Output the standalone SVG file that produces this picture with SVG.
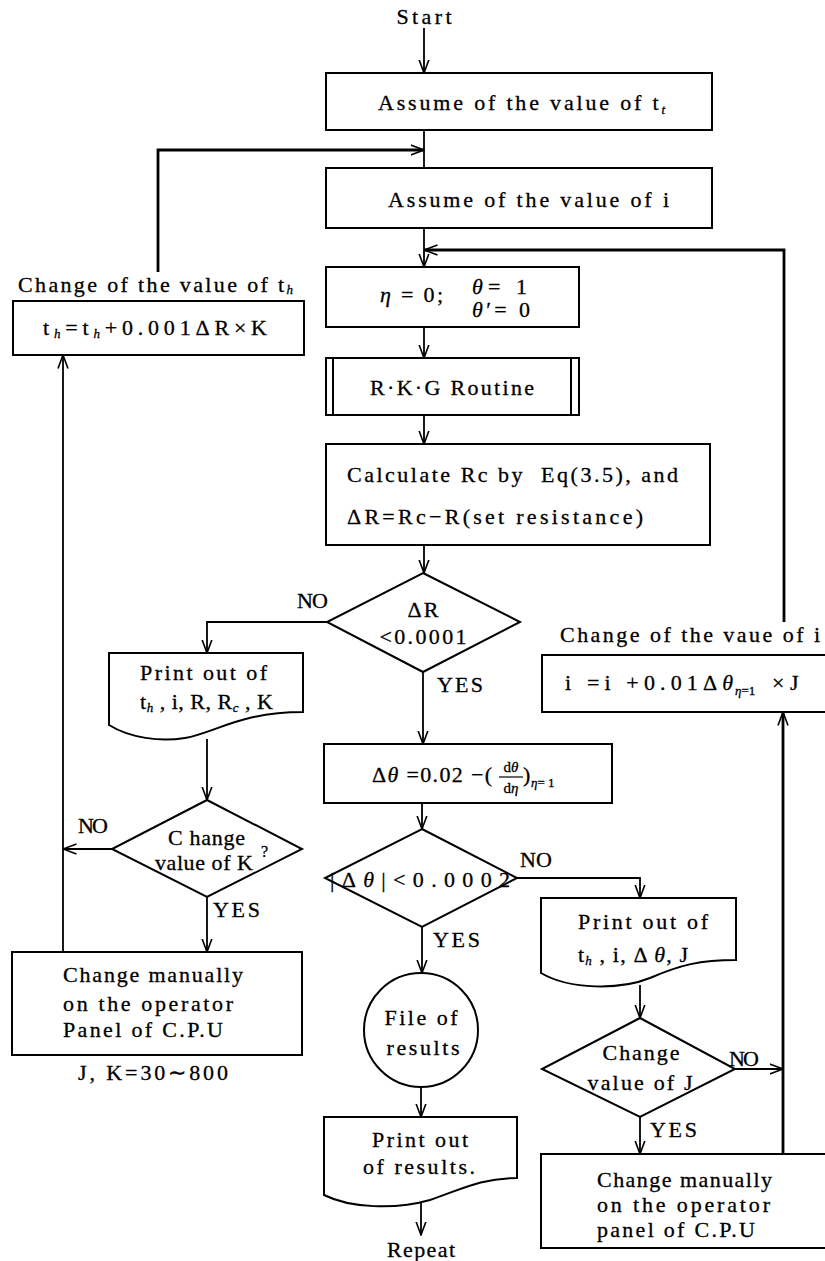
<svg xmlns="http://www.w3.org/2000/svg" width="825" height="1261" viewBox="0 0 825 1261">
<defs>
<marker id="ah" viewBox="0 0 14 12" markerWidth="14" markerHeight="12" refX="13.5" refY="6" orient="auto" markerUnits="userSpaceOnUse">
<path d="M0,1 L13.5,6 L0,11" fill="none" stroke="#000" stroke-width="1.6"/>
</marker>
<style>
.b{fill:#fff;stroke:#000;stroke-width:2}
.c{fill:none;stroke:#000;stroke-width:1.8}
.w{stroke-width:2.8}
.a{marker-end:url(#ah)}
text{font-family:"Liberation Serif","Times New Roman",serif;font-size:22px;fill:#000;stroke:#000;stroke-width:0.3}
.m{text-anchor:middle}
.s{font-size:13px}
.f{font-size:15px}
.i{font-style:italic}
</style>
</defs>
<rect width="825" height="1261" fill="#fff"/>

<g id="connectors">
<path class="c a" d="M424,28 V73"/>
<path class="c" d="M424,130 V168"/>
<path class="c w a" d="M158,272 V150 H424"/>
<path class="c a" d="M424,228 V267"/>
<path class="c w a" d="M784,622 V250 H424"/>
<path class="c a" d="M424,327 V358"/>
<path class="c a" d="M424,415 V444"/>
<path class="c a" d="M424,545 V573"/>
<path class="c a" d="M327,622 H207 V653"/>
<path class="c a" d="M423,672 V744"/>
<path class="c a" d="M422,803 V829"/>
<path class="c a" d="M517,878 H640 V898"/>
<path class="c a" d="M422,927 V973"/>
<path class="c a" d="M421,1087 V1117"/>
<path class="c a" d="M421,1203 V1235"/>
<path class="c a" d="M207,739 V800"/>
<path class="c a" d="M112,849 H63"/>
<path class="c a" d="M207,897 V952"/>
<path class="c a" d="M63,952 V355"/>
<path class="c a" d="M640,985 V1018"/>
<path class="c a" d="M735,1069 H783"/>
<path class="c a" d="M640,1117 V1154"/>
<path class="c w a" d="M783,1154 V712"/>
</g>

<g id="start"><text class="m" x="424" y="24" textLength="55">Start</text></g>

<g id="assume-tt">
<rect class="b" x="326" y="73" width="386" height="57"/>
<text x="378" y="110" textLength="287">Assume of the value of t<tspan class="s i" dy="4">t</tspan></text>
</g>

<g id="assume-i">
<rect class="b" x="326" y="168" width="386" height="60"/>
<text x="388" y="207" textLength="281">Assume of the value of i</text>
</g>

<g id="change-th">
<text x="18" y="292" textLength="275">Change of the value of t<tspan class="s i" dy="2">h</tspan></text>
<rect class="b" x="13" y="301" width="291" height="54"/>
<text x="43" y="335" textLength="224">t<tspan class="s i" dy="3">h</tspan><tspan dy="-3">=t</tspan><tspan class="s i" dy="3">h</tspan><tspan dy="-3">+0.001ΔR×K</tspan></text>
</g>

<g id="init">
<rect class="b" x="326" y="267" width="253" height="60"/>
<text x="380" y="302" textLength="63"><tspan class="i">η</tspan> = 0;</text>
<text x="472" y="294" textLength="55"><tspan class="i">θ</tspan>= 1</text>
<text x="472" y="317" textLength="58"><tspan class="i">θ</tspan>′= 0</text>
</g>

<g id="rkg">
<rect class="b" x="326" y="358" width="253" height="57"/>
<path class="c" d="M333,358 V415 M571,358 V415" style="stroke-width:2"/>
<text x="370" y="395" textLength="164">R·K·G Routine</text>
</g>

<g id="calc">
<rect class="b" x="326" y="444" width="384" height="101"/>
<text x="347" y="482" textLength="331">Calculate Rc by&#160; Eq(3.5), and</text>
<text x="347" y="524" textLength="296">ΔR=Rc−R(set resistance)</text>
</g>

<g id="dec-dr">
<polygon class="b" points="423,573 520,622 423,672 327,622"/>
<text class="m" x="423" y="617" textLength="31">ΔR</text>
<text class="m" x="423" y="644" textLength="87">&lt;0.0001</text>
<text x="297" y="608" textLength="31">NO</text>
<text x="437" y="692" textLength="46">YES</text>
</g>

<g id="print-1">
<path class="b" d="M109,653 H303 V712 C240,712 215,733 185,738 C160,742 130,738 109,725 Z"/>
<text x="140" y="680" textLength="127">Print out of</text>
<text x="140" y="709" textLength="133">t<tspan class="s i" dy="3">h</tspan><tspan dy="-3"> , i, R, R</tspan><tspan class="s i" dy="3">c</tspan><tspan dy="-3"> , K</tspan></text>
</g>

<g id="dec-k">
<polygon class="b" points="207,800 302,849 207,897 112,849"/>
<text x="168" y="845" textLength="77">C hange</text>
<text x="155" y="870" textLength="98">value of K</text>
<text x="261" y="857" style="font-size:16px">?</text>
<text x="78" y="833" textLength="30">NO</text>
<text x="213" y="917" textLength="47">YES</text>
</g>

<g id="manual-k">
<rect class="b" x="12" y="952" width="290" height="103"/>
<text x="63" y="982" textLength="180">Change manually</text>
<text x="63" y="1011" textLength="170">on the operator</text>
<text x="63" y="1037" textLength="160">Panel of C.P.U</text>
<text x="78" y="1080" textLength="150">J, K=30∼800</text>
</g>

<g id="dtheta">
<rect class="b" x="324" y="744" width="288" height="59"/>
<text x="372" y="782" textLength="120">Δ<tspan class="i">θ</tspan> =0.02 −(</text>
<text class="f m" x="511" y="772">d<tspan class="i">θ</tspan></text>
<path d="M499,777 H523" stroke="#000" stroke-width="1.2"/>
<text class="f m" x="511" y="793">d<tspan class="i">η</tspan></text>
<text x="523" y="782">)</text>
<text class="s" x="531" y="787"><tspan class="i">η</tspan>= 1</text>
</g>

<g id="dec-dtheta">
<polygon class="b" points="422,829 517,878 422,927 325,878"/>
<text x="330" y="887" textLength="180">|Δ<tspan class="i">θ</tspan>|&lt;0.0002</text>
<text x="520" y="867" textLength="32">NO</text>
<text x="433" y="947" textLength="47">YES</text>
</g>

<g id="file">
<circle class="b" cx="421" cy="1030" r="57"/>
<text class="m" x="421" y="1025" textLength="73">File of</text>
<text class="m" x="423" y="1055" textLength="73">results</text>
</g>

<g id="print-results">
<path class="b" d="M324,1117 H517 V1178 C480,1178 460,1190 430,1200 C395,1210 350,1208 324,1195 Z"/>
<text class="m" x="420" y="1147" textLength="96">Print out</text>
<text class="m" x="419" y="1174" textLength="112">of results.</text>
</g>

<g id="repeat"><text class="m" x="421" y="1257" textLength="68">Repeat</text></g>

<g id="change-i">
<text x="560" y="642" textLength="260">Change of the vaue of i</text>
<rect class="b" x="542" y="655" width="290" height="57"/>
<text x="565" y="690" textLength="168">i =i +0.01Δ<tspan class="i">θ</tspan></text>
<text class="s" x="735" y="695"><tspan class="i">η</tspan>=1</text>
<text x="772" y="690">× J</text>
</g>

<g id="print-2">
<path class="b" d="M541,898 H736 V960 C700,960 680,965 650,978 C620,990 570,990 541,973 Z"/>
<text x="578" y="929" textLength="130">Print out of</text>
<text x="578" y="962" textLength="110">t<tspan class="s i" dy="3">h</tspan><tspan dy="-3"> , i, Δ </tspan><tspan class="i">θ</tspan>, J</text>
</g>

<g id="dec-j">
<polygon class="b" points="640,1018 735,1069 640,1117 542,1069"/>
<text class="m" x="641" y="1060" textLength="77">Change</text>
<text class="m" x="640" y="1090" textLength="105">value of J</text>
<text x="729" y="1066" textLength="30">NO</text>
<text x="650" y="1137" textLength="47">YES</text>
</g>

<g id="manual-j">
<rect class="b" x="541" y="1154" width="290" height="94"/>
<text x="597" y="1187" textLength="175">Change manually</text>
<text x="597" y="1212" textLength="173">on the operator</text>
<text x="597" y="1237" textLength="158">panel of C.P.U</text>
</g>
</svg>
